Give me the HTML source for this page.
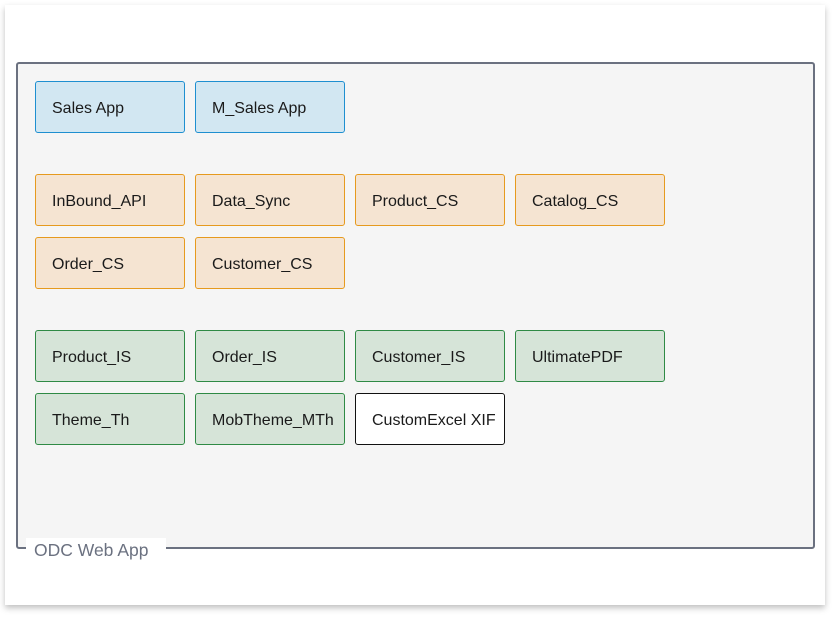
<!DOCTYPE html>
<html><head><style>
body{margin:0;width:840px;height:620px;background:#fff;font-family:"Liberation Sans",sans-serif;position:relative;overflow:hidden}
.card{position:absolute;left:5px;top:5px;width:820px;height:600px;background:#fff;box-shadow:0 3px 6px rgba(0,0,0,.25)}
.cont{position:absolute;left:16px;top:62px;width:795px;height:483px;border:2px solid #6b7180;border-radius:3px;background:#f5f5f5}
.lbl{position:absolute;left:26px;top:538px;width:140px;height:24px;background:#fff;color:#6b7180;font-size:17.5px;line-height:24px;padding-left:8px;box-sizing:border-box}
.b{position:absolute;width:150px;height:52px;box-sizing:border-box;border:1px solid;border-radius:3px;font-size:16px;line-height:54px;padding-left:16px;color:#1a1a1a}
.bl{background:#d2e7f2;border-color:#1e8fd0}
.or{background:#f5e4d2;border-color:#e69a1e}
.gr{background:#d6e4d8;border-color:#2f8a45}
.wh{background:#fff;border-color:#111}
</style></head><body>
<div class="card"></div>
<div class="cont"></div>
<div class="lbl">ODC Web App</div>
<div class="b bl" style="left:35px;top:81px">Sales App</div>
<div class="b bl" style="left:195px;top:81px">M_Sales App</div>
<div class="b or" style="left:35px;top:174px">InBound_API</div>
<div class="b or" style="left:195px;top:174px">Data_Sync</div>
<div class="b or" style="left:355px;top:174px">Product_CS</div>
<div class="b or" style="left:515px;top:174px">Catalog_CS</div>
<div class="b or" style="left:35px;top:237px">Order_CS</div>
<div class="b or" style="left:195px;top:237px">Customer_CS</div>
<div class="b gr" style="left:35px;top:330px">Product_IS</div>
<div class="b gr" style="left:195px;top:330px">Order_IS</div>
<div class="b gr" style="left:355px;top:330px">Customer_IS</div>
<div class="b gr" style="left:515px;top:330px">UltimatePDF</div>
<div class="b gr" style="left:35px;top:393px">Theme_Th</div>
<div class="b gr" style="left:195px;top:393px">MobTheme_MTh</div>
<div class="b wh" style="left:355px;top:393px">CustomExcel XIF</div>
</body></html>
